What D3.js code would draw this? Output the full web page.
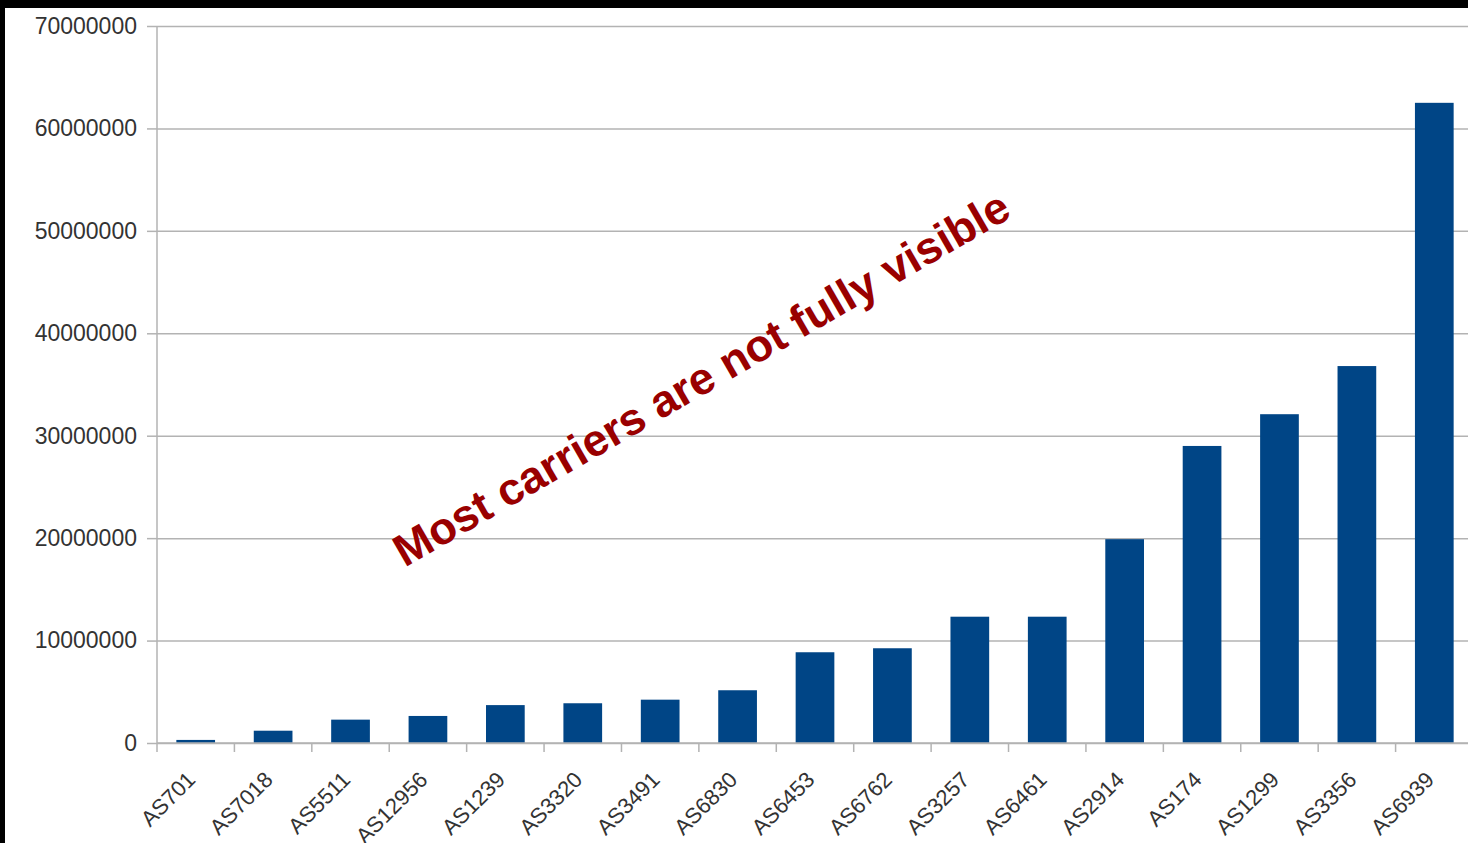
<!DOCTYPE html>
<html>
<head>
<meta charset="utf-8">
<script src="https://cdn.jsdelivr.net/npm/d3@7"></script>
<style>
  html, body { margin: 0; padding: 0; background: #000; }
  svg { display: block; }
</style>
</head>
<body>
<svg id="chart" width="1468" height="843"></svg>
<script>
const categories = ["AS701","AS7018","AS5511","AS12956","AS1239","AS3320","AS3491","AS6830","AS6453","AS6762","AS3257","AS6461","AS2914","AS174","AS1299","AS3356","AS6939"];
const values = [300000, 1200000, 2280000, 2640000, 3700000, 3880000, 4230000, 5150000, 8860000, 9250000, 12330000, 12330000, 19900000, 29000000, 32100000, 36800000, 62500000];
const yTicks = [0, 10000000, 20000000, 30000000, 40000000, 50000000, 60000000, 70000000];
const annotation = "Most carriers are not fully visible";

(function () {
const W = 1468, H = 843;
const svg = d3.select("#chart");

// black frame + white canvas
svg.append("rect").attr("x", 0).attr("y", 0).attr("width", W).attr("height", H).attr("fill", "#000");
svg.append("rect").attr("x", 5).attr("y", 8).attr("width", W - 5).attr("height", H - 8).attr("fill", "#fff");

const mLeft = 157, mRight = 1473, mTop = 26, mBottom = 743;

const x = d3.scaleBand().domain(categories).range([mLeft, mRight]).paddingInner(0.5).paddingOuter(0.25);
const y = d3.scaleLinear().domain([0, 70000000]).range([mBottom, mTop]);

// gridlines
const grid = svg.append("g").attr("transform", `translate(${mLeft},0)`)
  .call(d3.axisLeft(y).tickValues(yTicks).tickSize(-(W - mLeft)).tickFormat(""));
grid.select(".domain").remove();
grid.selectAll("line").attr("stroke", "#b3b3b3").attr("stroke-width", 1.5);

// y axis
const yAxis = svg.append("g").attr("transform", `translate(${mLeft},0)`)
  .call(d3.axisLeft(y).tickValues(yTicks).tickSize(10).tickPadding(10).tickFormat(d3.format("d")));
yAxis.select(".domain").attr("stroke", "#b3b3b3").attr("stroke-width", 1.5)
  .attr("d", `M0,${mTop}V${mBottom}`);
yAxis.selectAll(".tick line").attr("stroke", "#b3b3b3").attr("stroke-width", 1.5);
yAxis.selectAll("text").attr("fill", "#333").attr("font-family", "'Liberation Sans', Arial, sans-serif").attr("font-size", 23);

// bars
svg.append("g").selectAll("rect").data(categories).join("rect")
  .attr("x", d => x(d))
  .attr("y", (d, i) => y(values[i]))
  .attr("width", x.bandwidth())
  .attr("height", (d, i) => y(0) - y(values[i]))
  .attr("fill", "#004586");

// x axis line
svg.append("line").attr("x1", mLeft).attr("x2", W).attr("y1", mBottom).attr("y2", mBottom)
  .attr("stroke", "#b3b3b3").attr("stroke-width", 1.5);

// category boundary ticks
const bounds = d3.range(categories.length + 1).map(i => mLeft + i * x.step());
svg.append("g").selectAll("line").data(bounds).join("line")
  .attr("x1", d => d).attr("x2", d => d).attr("y1", mBottom).attr("y2", mBottom + 9)
  .attr("stroke", "#b3b3b3").attr("stroke-width", 1.5);

// x labels
const xAxis = svg.append("g").attr("transform", `translate(0,${mBottom})`)
  .call(d3.axisBottom(x).tickSize(0).tickFormat(d => d));
xAxis.select(".domain").remove();
xAxis.selectAll("text")
  .attr("fill", "#333")
  .attr("font-family", "'Liberation Sans', Arial, sans-serif")
  .attr("font-size", 22)
  .attr("text-anchor", "end")
  .attr("x", 0).attr("y", 0).attr("dy", 0)
  .attr("transform", "translate(1,38) rotate(-45)");

// annotation
svg.append("text")
  .attr("transform", "translate(709,392) rotate(-30)")
  .attr("text-anchor", "middle")
  .attr("font-family", "'Liberation Sans', Arial, sans-serif")
  .attr("font-weight", "bold")
  .attr("font-size", 45)
  .attr("fill", "#990000")
  .text(annotation);
})();
</script>
</body>
</html>
